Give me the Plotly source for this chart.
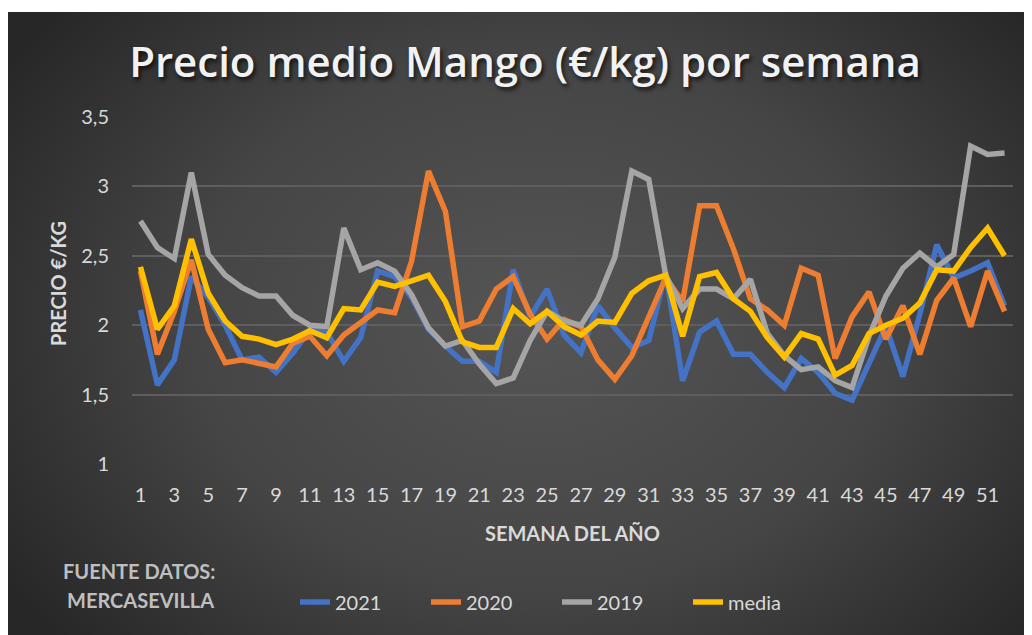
import base64
import plotly.graph_objects as go

weeks = list(range(1, 53))

v2021 = [2.11, 1.57, 1.75, 2.35, 2.20, 2.00, 1.75, 1.77, 1.66, 1.80,
         1.97, 1.95, 1.74, 1.91, 2.39, 2.35, 2.20, 1.97, 1.85, 1.74,
         1.74, 1.66, 2.40, 2.06, 2.26, 1.93, 1.80, 2.14, 1.98, 1.84,
         1.89, 2.38, 1.60, 1.95, 2.03, 1.79, 1.79, 1.66, 1.55, 1.76,
         1.66, 1.51, 1.46, 1.73, 1.99, 1.63, 2.08, 2.58, 2.34, 2.39,
         2.45, 2.14]

v2020 = [2.39, 1.79, 2.10, 2.47, 1.97, 1.73, 1.75, 1.73, 1.70, 1.87,
         1.92, 1.78, 1.93, 2.02, 2.11, 2.09, 2.46, 3.11, 2.82, 1.99,
         2.03, 2.26, 2.35, 2.08, 1.90, 2.04, 1.99, 1.75, 1.61, 1.78,
         2.07, 2.34, 2.17, 2.86, 2.86, 2.55, 2.19, 2.11, 2.00, 2.41,
         2.36, 1.76, 2.06, 2.24, 1.90, 2.14, 1.79, 2.18, 2.34, 1.99,
         2.39, 2.10]

v2019 = [2.75, 2.56, 2.48, 3.10, 2.51, 2.36, 2.27, 2.21, 2.21, 2.07,
         2.00, 1.99, 2.70, 2.40, 2.45, 2.39, 2.22, 1.98, 1.85, 1.89,
         1.72, 1.58, 1.62, 1.89, 2.10, 2.03, 2.00, 2.19, 2.49, 3.11,
         3.05, 2.36, 2.12, 2.26, 2.26, 2.19, 2.33, 1.94, 1.78, 1.68,
         1.70, 1.60, 1.55, 1.92, 2.21, 2.41, 2.52, 2.42, 2.51, 3.29,
         3.23, 3.24]

media = [2.42, 1.97, 2.14, 2.62, 2.23, 2.03, 1.92, 1.90, 1.86, 1.90,
         1.96, 1.91, 2.12, 2.11, 2.31, 2.28, 2.32, 2.36, 2.17, 1.88,
         1.84, 1.84, 2.12, 2.01, 2.10, 1.99, 1.93, 2.03, 2.02, 2.23,
         2.32, 2.36, 1.92, 2.35, 2.38, 2.19, 2.10, 1.91, 1.77, 1.94,
         1.90, 1.64, 1.71, 1.94, 2.00, 2.05, 2.16, 2.40, 2.39, 2.56,
         2.70, 2.50]

series_names = ["2021", "2020", "2019", "media"]
series_values = [v2021, v2020, v2019, media]
series_colors = ["#4472C4", "#ED7D31", "#A5A5A5", "#FFC000"]

x_tick_labels = [str(k) for k in range(1, 52, 2)]
y_tick_vals = [1, 1.5, 2, 2.5, 3, 3.5]

# the page body has an 8px default margin: work in page pixels, convert
OFF = 8
W, H = 1032 - OFF, 635 - OFF
L, R, T, B = 132 - OFF, 1013 - OFF, 117 - OFF, 464 - OFF
pw, ph = R - L, B - T


def px(xp):
    return (xp - OFF - L) / pw


def py(yp):
    return (B - (yp - OFF)) / ph


fig = go.Figure()
for name, vals, col in zip(series_names, series_values, series_colors):
    fig.add_trace(go.Scatter(
        x=weeks, y=vals, name=name, mode="lines",
        line=dict(color=col, width=5.5, shape="linear"),
        hoverinfo="x+y+name",
    ))

# background gradient as an SVG data-uri layout image
svg = (
    '<svg xmlns="http://www.w3.org/2000/svg" width="1024" height="623" '
    'viewBox="0 0 1024 623" preserveAspectRatio="none">'
    '<defs><radialGradient id="g" cx="0.52" cy="0.5" r="0.62" '
    'gradientTransform="translate(0.52 0.5) scale(1 1.25) translate(-0.52 -0.5)">'
    '<stop offset="0" stop-color="#555555"/>'
    '<stop offset="0.55" stop-color="#454545"/>'
    '<stop offset="1" stop-color="#272727"/>'
    '</radialGradient></defs>'
    '<rect width="1024" height="623" fill="url(#g)"/></svg>'
)
uri = "data:image/svg+xml;base64," + base64.b64encode(svg.encode()).decode()

fig.add_layout_image(dict(
    source=uri, xref="paper", yref="paper",
    x=px(8), y=py(12), sizex=(1032 - 8) / pw, sizey=(635 - 12) / ph,
    xanchor="left", yanchor="top", sizing="stretch", layer="below",
))

txt = "#D9D9D9"
fig.update_layout(
    width=W, height=H,
    margin=dict(l=L, r=W - R, t=T, b=H - B, autoexpand=False),
    paper_bgcolor="white",
    plot_bgcolor="rgba(0,0,0,0)",
    separators=",.",
    font=dict(family="Lato", color=txt, size=20),
    title=dict(
        text="Precio medio Mango (€/kg) por semana",
        xref="container", yref="container",
        x=(525 - OFF) / W, xanchor="center", y=1 - (62 - OFF) / H, yanchor="middle",
        font=dict(family="Open Sans", size=42, weight=600, color="#F2F2F2",
                  shadow="2px 3px 4px rgba(0,0,0,0.7)"),
    ),
    xaxis=dict(
        range=[0.5, 52.5], tickmode="array",
        tickvals=list(range(1, 52, 2)), ticktext=x_tick_labels,
        showgrid=False, zeroline=False, showline=False, ticks="",
        tickfont=dict(family="Lato", size=20, color=txt),
        ticklabelstandoff=17, fixedrange=True,
    ),
    yaxis=dict(
        range=[1, 3.5], tickmode="array", tickvals=y_tick_vals,
        showgrid=True, gridcolor="#5E5E5E", gridwidth=1.5,
        zeroline=False, showline=False, ticks="",
        tickfont=dict(family="Lato", size=20, color=txt),
        ticklabelstandoff=22, fixedrange=True,
    ),
    legend=dict(
        orientation="h", x=px(295), xanchor="left", y=py(602), yanchor="middle",
        font=dict(family="Lato", size=20, color=txt),
        bgcolor="rgba(0,0,0,0)", entrywidth=86, entrywidthmode="pixels",
    ),
    showlegend=True,
)

fig.add_annotation(
    text="<b>PRECIO €/KG</b>", xref="paper", yref="paper",
    x=px(58), y=py(284), textangle=-90, showarrow=False,
    font=dict(family="Lato", size=20, color=txt),
    xanchor="center", yanchor="middle",
)
fig.add_annotation(
    text="<b>SEMANA DEL AÑO</b>", xref="paper", yref="paper",
    x=px(572), y=py(533), showarrow=False,
    font=dict(family="Lato", size=20, color=txt),
    xanchor="center", yanchor="middle",
)
fig.add_annotation(
    text="<b>FUENTE DATOS:</b>", xref="paper", yref="paper",
    x=px(61), y=py(571), showarrow=False, xanchor="left", yanchor="middle",
    font=dict(family="Lato", size=20, color="#BFBFBF"),
)
fig.add_annotation(
    text="<b>MERCASEVILLA</b>", xref="paper", yref="paper",
    x=px(65), y=py(600), showarrow=False, xanchor="left", yanchor="middle",
    font=dict(family="Lato", size=20, color="#BFBFBF"),
)

fig.write_html("out.html")
